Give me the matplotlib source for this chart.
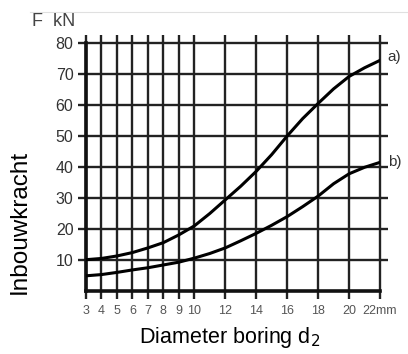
import matplotlib
matplotlib.use("Agg")
import matplotlib.pyplot as plt
from matplotlib.lines import Line2D

plt.rcParams['font.family'] = ['Liberation Sans', 'DejaVu Sans']

# Data
x_a = [3, 4, 5, 6, 7, 8, 9, 10, 11, 12, 13, 14, 15, 16, 17, 18, 19, 20, 21, 22]
y_a = [10.1, 10.5, 11.3, 12.4, 13.9, 15.6, 18.1, 21.0, 25.0, 29.4, 33.8, 38.6, 44.0, 50.0, 55.6, 60.5, 65.2, 69.2, 72.0, 74.4]
x_b = [3, 4, 5, 6, 7, 8, 9, 10, 11, 12, 13, 14, 15, 16, 17, 18, 19, 20, 21, 22]
y_b = [4.9, 5.3, 6.0, 6.8, 7.5, 8.4, 9.3, 10.6, 12.1, 13.9, 16.2, 18.6, 21.2, 24.0, 27.2, 30.6, 34.6, 37.8, 39.9, 41.5]

x_ticks = [3, 4, 5, 6, 7, 8, 9, 10, 12, 14, 16, 18, 20, 22]
x_labels = ['3', '4', '5', '6', '7', '8', '9', '10', '12', '14', '16', '18', '20', '22mm']
y_ticks = [10, 20, 30, 40, 50, 60, 70, 80]
y_labels = ['10', '20', '30', '40', '50', '60', '70', '80']

fig = plt.figure(figsize=(4.08, 3.54), dpi=100)
ax = fig.add_axes([86/408, 1 - 291/354, (380 - 86)/408, (291 - 43)/354])

ax.set_xlim(3, 22)
ax.set_ylim(0, 80)

# grid lines
for xv in x_ticks:
    ax.axvline(xv, color='#222222', lw=1.7, zorder=1, clip_on=False)
for yv in y_ticks:
    ax.axhline(yv, color='#222222', lw=1.7, zorder=1, clip_on=False)

ax.plot(x_a, y_a, color='black', lw=2.2, zorder=3)
ax.plot(x_b, y_b, color='black', lw=2.2, zorder=3)

for s in ['top', 'right']:
    ax.spines[s].set_visible(False)
for s in ['left', 'bottom']:
    ax.spines[s].set_linewidth(2.6)
    ax.spines[s].set_color('#111111')

ax.set_xticks(x_ticks)
ax.set_xticklabels(x_labels, fontsize=9, color='#555555')
ax.set_yticks(y_ticks)
ax.set_yticklabels(y_labels, fontsize=11.5, color='#333333')
ax.tick_params(axis='both', direction='out', length=6, width=1.7, color='#222222',
               top=True, right=True, pad=3)
ax.tick_params(axis='x', pad=4)

ax.text(22.5, y_a[-1] + 1.0, 'a)', fontsize=11, color='#333333', va='center', ha='left')
ax.text(22.5, y_b[-1] + 0.0, 'b)', fontsize=11, color='#333333', va='center', ha='left')

fig.text(32/408, 1 - 21/354, 'F  kN', fontsize=13, color='#444444', va='center', ha='left')
fig.text(20/408, 1 - 222/354, 'Inbouwkracht', fontsize=17.5, rotation=90,
         va='center', ha='center', color='black')
fig.text(230/408, 1 - 338/354, 'Diameter boring d$_2$', fontsize=15.5,
         va='center', ha='center', color='black')

fig.add_artist(Line2D([30/408, 1], [1 - 12/354, 1 - 12/354], color='#e0e0e0', lw=0.8))

fig.savefig('out.png', dpi=100)
